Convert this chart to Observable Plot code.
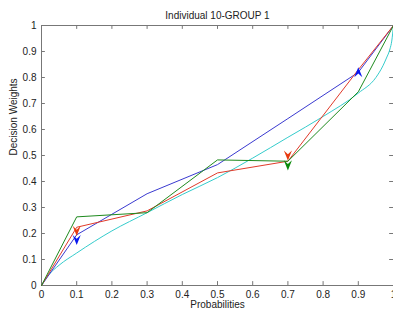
<!DOCTYPE html>
<html>
<head>
<meta charset="utf-8">
<script src="https://cdn.jsdelivr.net/npm/d3@7"></script>
<script src="https://cdn.jsdelivr.net/npm/@observablehq/plot@0.6"></script>
<style>
  html, body { margin: 0; padding: 0; background: #fff; }
  #chart svg { display: block; overflow: visible; }
</style>
</head>
<body>
<div id="chart"></div>
<script>
// ---- data ----
const titleText = "Individual 10-GROUP 1";
const xLabel = "Probabilities";
const yLabel = "Decision Weights";

const probs = [0, 0.1, 0.3, 0.5, 0.7, 0.9, 1];
const blueW  = [0, 0.195, 0.353, 0.465, 0.642, 0.82, 1];
const redW   = [0, 0.224, 0.287, 0.433, 0.478, 0.83, 1];
const greenW = [0, 0.264, 0.28, 0.483, 0.478, 0.745, 1];

const curveP = [0, 0.02, 0.05, 0.1, 0.2, 0.3, 0.4, 0.5, 0.6, 0.7, 0.8, 0.9, 0.95, 0.97, 0.98, 0.99, 0.995, 1];
const curveW = [0, 0.04, 0.078, 0.125, 0.21, 0.28, 0.35, 0.415, 0.49, 0.57, 0.65, 0.74, 0.8, 0.845, 0.875, 0.91, 0.94, 1];

const markerP = [0.1, 0.1, 0.7, 0.7, 0.9];
const markerW = [0.21, 0.175, 0.5, 0.462, 0.82];
const markerSeries = ["red", "blue", "red", "green", "blue"];
const markerDir = ["down", "down", "down", "down", "up"];

const xTicks = [0, 0.1, 0.2, 0.3, 0.4, 0.5, 0.6, 0.7, 0.8, 0.9, 1];
const yTicks = [0, 0.1, 0.2, 0.3, 0.4, 0.5, 0.6, 0.7, 0.8, 0.9, 1];

// ---- build tables ----
const lineColors = {blue: "#3a3ad0", red: "#e03a2a", green: "#1e8a1e", cyan: "#35cccc"};
const markColors = {blue: "#0a18f0", red: "#e83a10", green: "#0a8a0a"};

const lines = [];
probs.forEach((p, i) => lines.push({p, w: blueW[i], s: "blue"}));
probs.forEach((p, i) => lines.push({p, w: redW[i], s: "red"}));
probs.forEach((p, i) => lines.push({p, w: greenW[i], s: "green"}));
const curve = curveP.map((p, i) => ({p, w: curveW[i]}));

const markers = markerP.map((p, i) => ({p, w: markerW[i], s: markerSeries[i], d: markerDir[i]}));

// arrowhead symbol (points down)
const arrowDown = {
  draw(ctx, size) {
    const h = Math.sqrt(size) * 0.62, w = h * 0.8;
    ctx.moveTo(-w, -h);
    ctx.lineTo(0, -h * 0.25);
    ctx.lineTo(w, -h);
    ctx.lineTo(0, h);
    ctx.closePath();
  }
};

const font = "'Liberation Sans Narrow', 'Liberation Sans', Arial, sans-serif";

const chart = Plot.plot({
  width: 393,
  height: 311,
  marginLeft: 41,
  marginRight: 0,
  marginTop: 25,
  marginBottom: 26,
  style: {fontFamily: font, fontSize: "10px", color: "#222", background: "#fff"},
  x: {domain: [0, 1]},
  y: {domain: [0, 1]},
  marks: [
    Plot.frame({stroke: "#777", strokeWidth: 1}),
    // inward ticks on all four sides
    Plot.ruleX(xTicks, {x: d => d, y1: 0, y2: 0.015, stroke: "#777"}),
    Plot.ruleX(xTicks, {x: d => d, y1: 0.985, y2: 1, stroke: "#777"}),
    Plot.ruleY(yTicks, {y: d => d, x1: 0, x2: 0.011, stroke: "#777"}),
    Plot.ruleY(yTicks, {y: d => d, x1: 0.989, x2: 1, stroke: "#777"}),
    Plot.axisX(xTicks, {tickSize: 0, tickPadding: 5, tickFormat: d => String(d), label: null, fill: "#222"}),
    Plot.axisY(yTicks, {tickSize: 0, tickPadding: 5, tickFormat: d => String(d), label: null, fill: "#222"}),
    Plot.line(curve, {x: "p", y: "w", stroke: lineColors.cyan, strokeWidth: 1, curve: "monotone-x"}),
    Plot.line(lines, {x: "p", y: "w", z: "s", stroke: d => lineColors[d.s], strokeWidth: 1}),
    Plot.dot(markers, {
      x: "p", y: "w", symbol: arrowDown, r: 4.6,
      fill: d => markColors[d.s], stroke: "none",
      rotate: d => d.d === "up" ? 180 : 0
    }),
    Plot.text([titleText], {frameAnchor: "top", lineAnchor: "middle", dy: -10, fontSize: 10, fill: "#222"}),
    Plot.text([xLabel], {frameAnchor: "bottom", lineAnchor: "middle", dy: 19, fontSize: 10, fill: "#222"}),
    Plot.text([yLabel], {frameAnchor: "left", lineAnchor: "middle", dx: -28, rotate: -90, fontSize: 10, fill: "#222"})
  ]
});

document.getElementById("chart").appendChild(chart);
</script>
</body>
</html>
